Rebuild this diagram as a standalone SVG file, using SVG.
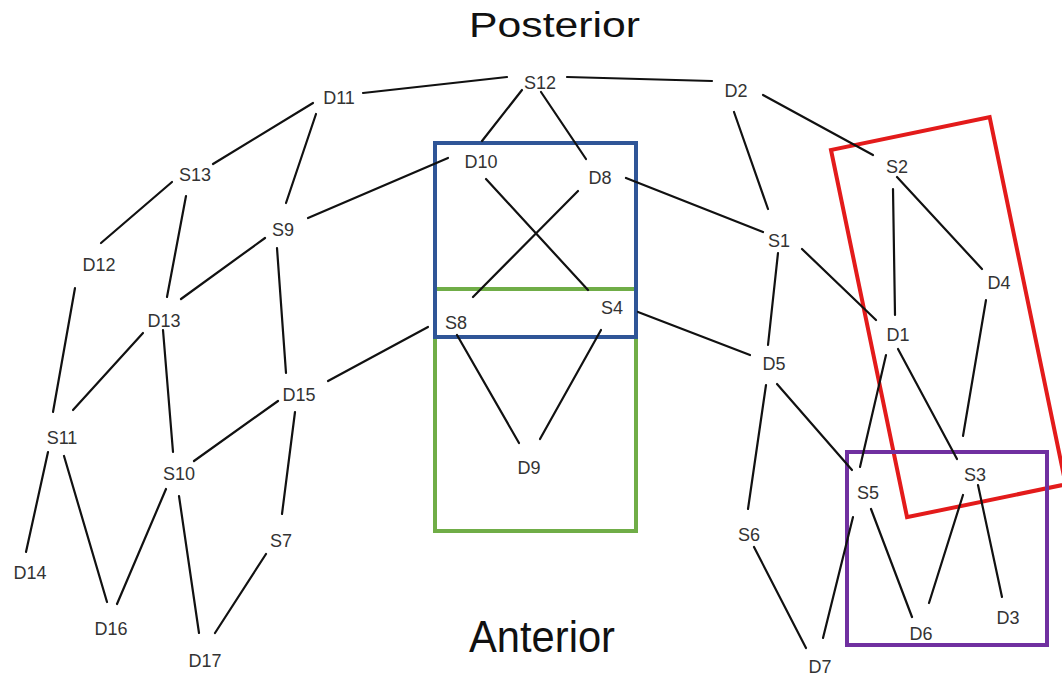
<svg xmlns="http://www.w3.org/2000/svg" width="1062" height="677" viewBox="0 0 1062 677">
  <style>
    .edge { stroke: #111; stroke-width: 2.2; stroke-linecap: round; fill: none; }
    .lbl { font-family: "Liberation Sans", Arial, sans-serif; font-size: 18px; fill: #333; text-anchor: middle; }
    .title { font-family: "Liberation Sans", Arial, sans-serif; fill: #111; }
    .box { fill: none; stroke-width: 4; }
  </style>
  <rect width="1062" height="677" fill="#fff"/>

  <!-- region outlines -->
  <g id="regions">
    <rect class="box" x="435" y="289" width="201" height="242" stroke="#70ad47"/>
    <rect class="box" x="435" y="143" width="201" height="194" stroke="#2f5597"/>
    <rect class="box" x="0" y="0" width="162" height="375" stroke="#e31b1b" transform="translate(831,150) rotate(-11.7)"/>
    <rect class="box" x="847" y="452" width="200" height="193" stroke="#7030a0"/>
  </g>

  <!-- connectors -->
  <g id="connectors" class="edge">
    <line x1="363" y1="93" x2="507" y2="77"/>
    <line x1="567" y1="77" x2="712" y2="81"/>
    <line x1="313" y1="103" x2="213" y2="164"/>
    <line x1="316" y1="114" x2="286" y2="203"/>
    <line x1="308" y1="218" x2="448" y2="158"/>
    <line x1="172" y1="182" x2="101" y2="243"/>
    <line x1="186" y1="196" x2="167" y2="297"/>
    <line x1="265" y1="238" x2="181" y2="299"/>
    <line x1="277" y1="248" x2="286" y2="373"/>
    <line x1="75" y1="288" x2="53" y2="412"/>
    <line x1="143" y1="333" x2="73" y2="410"/>
    <line x1="163" y1="330" x2="173" y2="452"/>
    <line x1="328" y1="381" x2="428" y2="327"/>
    <line x1="278" y1="401" x2="194" y2="461"/>
    <line x1="295" y1="412" x2="282" y2="514"/>
    <line x1="48" y1="452" x2="26" y2="552"/>
    <line x1="64" y1="456" x2="107" y2="602"/>
    <line x1="166" y1="489" x2="117" y2="604"/>
    <line x1="179" y1="496" x2="199" y2="633"/>
    <line x1="266" y1="554" x2="215" y2="633"/>
    <line x1="522" y1="90" x2="482" y2="141"/>
    <line x1="541" y1="92" x2="586" y2="159"/>
    <line x1="486" y1="179" x2="588" y2="290"/>
    <line x1="578" y1="191" x2="473" y2="297"/>
    <line x1="626" y1="178" x2="763" y2="232"/>
    <line x1="638" y1="312" x2="750" y2="355"/>
    <line x1="457" y1="335" x2="519" y2="443"/>
    <line x1="601" y1="330" x2="540" y2="439"/>
    <line x1="763" y1="95" x2="873" y2="155"/>
    <line x1="734" y1="112" x2="768" y2="209"/>
    <line x1="893" y1="189" x2="895" y2="315"/>
    <line x1="897" y1="177" x2="982" y2="269"/>
    <line x1="802" y1="249" x2="876" y2="320"/>
    <line x1="778" y1="253" x2="768" y2="345"/>
    <line x1="986" y1="300" x2="963" y2="436"/>
    <line x1="886" y1="355" x2="860" y2="467"/>
    <line x1="898" y1="349" x2="957" y2="459"/>
    <line x1="766" y1="385" x2="748" y2="509"/>
    <line x1="777" y1="384" x2="852" y2="470"/>
    <line x1="754" y1="547" x2="806" y2="648"/>
    <line x1="853" y1="517" x2="823" y2="638"/>
    <line x1="871" y1="509" x2="912" y2="617"/>
    <line x1="963" y1="495" x2="929" y2="603"/>
    <line x1="978" y1="485" x2="1002" y2="597"/>
  </g>

  <!-- nodes -->
  <g id="S12"><text class="lbl" x="540" y="89">S12</text></g>
  <g id="D11"><text class="lbl" x="339" y="104">D11</text></g>
  <g id="D2"><text class="lbl" x="736" y="97">D2</text></g>
  <g id="S13"><text class="lbl" x="195" y="181">S13</text></g>
  <g id="S9"><text class="lbl" x="283" y="236">S9</text></g>
  <g id="D12"><text class="lbl" x="99" y="271">D12</text></g>
  <g id="D13"><text class="lbl" x="164" y="327">D13</text></g>
  <g id="S11"><text class="lbl" x="62" y="444">S11</text></g>
  <g id="S10"><text class="lbl" x="179" y="480">S10</text></g>
  <g id="D15"><text class="lbl" x="299" y="401">D15</text></g>
  <g id="S7"><text class="lbl" x="281" y="547">S7</text></g>
  <g id="D14"><text class="lbl" x="30" y="579">D14</text></g>
  <g id="D16"><text class="lbl" x="111" y="635">D16</text></g>
  <g id="D17"><text class="lbl" x="205" y="667">D17</text></g>
  <g id="D10"><text class="lbl" x="481" y="168">D10</text></g>
  <g id="D8"><text class="lbl" x="600" y="184">D8</text></g>
  <g id="S4"><text class="lbl" x="612" y="314">S4</text></g>
  <g id="S8"><text class="lbl" x="456" y="329">S8</text></g>
  <g id="D9"><text class="lbl" x="529" y="474">D9</text></g>
  <g id="S2"><text class="lbl" x="897" y="173">S2</text></g>
  <g id="S1"><text class="lbl" x="779" y="247">S1</text></g>
  <g id="D4"><text class="lbl" x="999" y="289">D4</text></g>
  <g id="D1"><text class="lbl" x="898" y="341">D1</text></g>
  <g id="D5"><text class="lbl" x="774" y="370">D5</text></g>
  <g id="S5"><text class="lbl" x="868" y="499">S5</text></g>
  <g id="S3"><text class="lbl" x="975" y="481">S3</text></g>
  <g id="S6"><text class="lbl" x="749" y="541">S6</text></g>
  <g id="D7"><text class="lbl" x="820" y="673">D7</text></g>
  <g id="D6"><text class="lbl" x="921" y="640">D6</text></g>
  <g id="D3"><text class="lbl" x="1008" y="624">D3</text></g>

  <!-- orientation labels -->
  <text class="title" x="469" y="37" font-size="35" textLength="171" lengthAdjust="spacingAndGlyphs">Posterior</text>
  <text class="title" x="469" y="652" font-size="44" textLength="146" lengthAdjust="spacingAndGlyphs">Anterior</text>
</svg>
